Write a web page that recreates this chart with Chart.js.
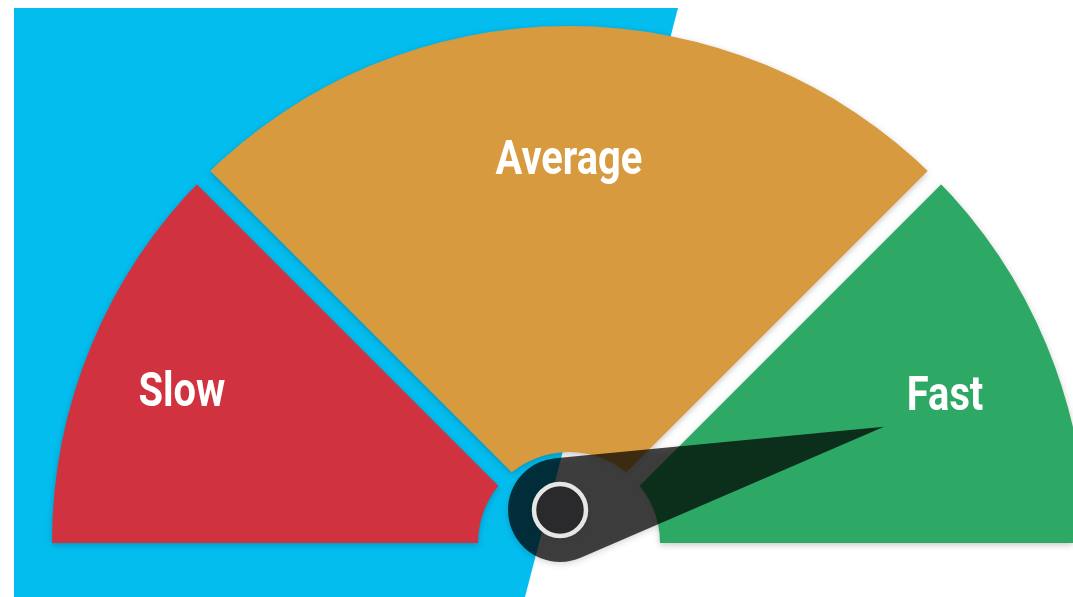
<!DOCTYPE html>
<html>
<head>
<meta charset="utf-8">
<script src="https://cdn.jsdelivr.net/npm/chart.js@4.4.1/dist/chart.umd.min.js"></script>
<style>
    html, body { margin: 0; padding: 0; background: #ffffff; overflow: hidden; }
    #wrap { position: relative; width: 1073px; height: 597px; }
    #bg {
        position: absolute; left: 0; top: 0; width: 1073px; height: 597px;
        background: #04bdef;
        clip-path: polygon(14px 8px, 678px 8px, 525px 597px, 14px 597px);
    }
    #box { position: absolute; left: 0; top: 0; width: 1073px; height: 597px; }
    #gauge { filter: drop-shadow(0 2px 3px rgba(0, 0, 0, 0.22)); }
</style>
</head>
<body>
<div id="wrap">
    <div id="bg"></div>
    <div id="box"><canvas id="gauge"></canvas></div>
</div>
<script>
// 게이지 구간
const categories = ['Slow', 'Average', 'Fast'];
const bandValues = [25, 50, 25];
const bandColors = ['#d0323f', '#d79a3e', '#2ea865'];
// 바늘 값 (0 ~ 100)
const needleValue = 92;

// 구간 사이 틈 (평행한 폭으로 잘라냄)
const bandGaps = {
    id: 'bandGaps',
    afterDatasetsDraw(chart, args, opts) {
        const ctx = chart.ctx;
        const arcs = chart.getDatasetMeta(0).data;
        ctx.save();
        ctx.globalCompositeOperation = 'destination-out';
        ctx.lineWidth = opts.width;
        ctx.strokeStyle = '#000';
        for (let i = 0; i < arcs.length - 1; i++) {
            const arc = arcs[i];
            const a = arc.endAngle;
            const r = arc.outerRadius + 30;
            ctx.beginPath();
            ctx.moveTo(arc.x, arc.y);
            ctx.lineTo(arc.x + Math.cos(a) * r, arc.y + Math.sin(a) * r);
            ctx.stroke();
        }
        ctx.restore();
    }
};

// 구간 안에 흰 글씨
const bandLabels = {
    id: 'bandLabels',
    afterDatasetsDraw(chart, args, opts) {
        const ctx = chart.ctx;
        const arcs = chart.getDatasetMeta(0).data;
        ctx.save();
        ctx.fillStyle = '#ffffff';
        ctx.font = 'bold 48px "Roboto", sans-serif';
        ctx.textAlign = 'center';
        ctx.textBaseline = 'middle';
        arcs.forEach((arc, i) => {
            const mid = (arc.startAngle + arc.endAngle) / 2;
            const r = arc.innerRadius + (arc.outerRadius - arc.innerRadius) * opts.radius[i];
            const x = arc.x + Math.cos(mid) * r;
            const y = arc.y + Math.sin(mid) * r + opts.dy;
            ctx.save();
            ctx.translate(x, y);
            ctx.scale(opts.squeeze, 1); // condensed 느낌
            ctx.fillText(chart.data.labels[i], 0, 0);
            ctx.restore();
        });
        ctx.restore();
    }
};

// 바늘
const needle = {
    id: 'needle',
    afterDraw(chart, args, opts) {
        const ctx = chart.ctx;
        const arc = chart.getDatasetMeta(0).data[0];
        const hx = arc.x + opts.hubDx;
        const hy = arc.y + opts.hubDy;
        const a = Math.PI + (needleValue / 100) * Math.PI;
        const len = arc.outerRadius * opts.length;
        const tx = hx + Math.cos(a) * len;
        const ty = hy + Math.sin(a) * len;
        const t = Math.acos(opts.base / len);

        ctx.save();
        ctx.beginPath();
        ctx.moveTo(tx, ty);
        ctx.arc(hx, hy, opts.base, a + t, a - t + Math.PI * 2);
        ctx.closePath();
        ctx.fillStyle = 'rgba(0, 0, 0, 0.72)';
        ctx.fill();

        ctx.beginPath();
        ctx.arc(hx, hy, 26, 0, Math.PI * 2);
        ctx.fillStyle = '#2a2a2c';
        ctx.fill();
        ctx.lineWidth = 4.5;
        ctx.strokeStyle = '#e6e6e6';
        ctx.stroke();
        ctx.restore();
    }
};

new Chart(document.getElementById('gauge').getContext('2d'), {
    type: 'doughnut',
    data: {
        labels: categories,
        datasets: [{
            data: bandValues,
            backgroundColor: bandColors,
            borderWidth: 0
        }]
    },
    options: {
        responsive: true,
        maintainAspectRatio: false,
        animation: false,
        rotation: -90,
        circumference: 180,
        radius: 517,
        cutout: '17.6%',
        layout: {
            padding: { left: 65, right: 0, top: 0, bottom: 28 }
        },
        plugins: {
            legend: { display: false },
            tooltip: { enabled: false },
            bandGaps: { width: 19 },
            bandLabels: { radius: [0.77, 0.707, 0.742], dy: 11, squeeze: 0.83 },
            needle: { hubDx: -9, hubDy: -33, length: 0.647, base: 52 }
        }
    },
    plugins: [bandGaps, bandLabels, needle]
});
</script>
</body>
</html>
